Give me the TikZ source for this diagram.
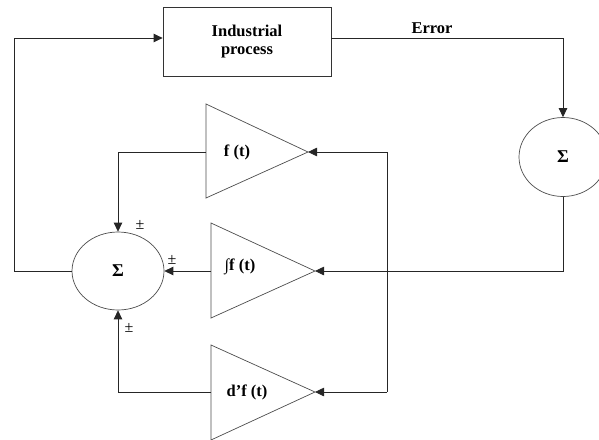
\documentclass[tikz,border=0pt]{standalone}
\usepackage{fontspec}
\setmainfont{Liberation Serif}
\usetikzlibrary{arrows.meta,shapes.geometric}
\begin{document}
\begin{tikzpicture}[x=1pt,y=-1pt,
  wire/.style={draw=black!85, line width=0.8pt},
  arr/.style={wire, -{Triangle[length=9pt,width=8.5pt]}},
  lbl/.style={font=\fontsize{16.5}{18}\selectfont\bfseries, text=black, inner sep=0pt},
  pm/.style={font=\fontsize{16}{18}\selectfont, inner sep=0pt},
  box/.style={draw=black!80, line width=0.8pt, minimum width=168pt, minimum height=69pt, align=center, inner sep=0pt, font=\fontsize{16.5}{18}\selectfont\bfseries},
  sumnode/.style={ellipse, draw=black!70, line width=0.7pt, inner sep=0pt, font=\fontsize{18}{18}\selectfont\bfseries},
  amp/.style={draw=black!70, line width=0.7pt}]
\useasboundingbox (0,0) rectangle (599,439);

% blocks
\node[box] (proc) at (247,41.5) {Industrial\\process};
\node[sumnode, minimum width=88pt, minimum height=79pt] (rsum) at (563,157) {Σ};
\node[sumnode, minimum width=92pt, minimum height=78pt] (lsum) at (118,271) {Σ};

% amplifiers
\draw[amp] (206,104) -- (308,152) -- (206,198) -- cycle;
\coordinate (fin) at (206,152); \coordinate (ftip) at (308,152);
\node[lbl] (flab) at (237,152) {f (t)};

\draw[amp] (211,223) -- (315,271) -- (211,318) -- cycle;
\coordinate (iin) at (211,271); \coordinate (itip) at (315,271);
\node[lbl] (ilab) at (240,267) {∫f (t)};

\draw[amp] (211,345) -- (315,392) -- (211,440) -- cycle;
\coordinate (din) at (211,392); \coordinate (dtip) at (315,392);
\node[lbl] (dlab) at (247,392) {d’f (t)};

% junction line
\coordinate (jt) at (387,152);
\coordinate (jb) at (387,392);
\coordinate (lcorner) at (14,271);

% connectors
\draw[arr] (lsum.west) -- (lcorner) |- ([yshift=3.5pt]proc.west);
\draw[arr] ([yshift=3.5pt]proc.east) -| (rsum.north);
\node[lbl] (err) at (432,28) {Error};
\draw[arr] (rsum.south) |- (itip);
\draw[wire] (jt) -- (jb);
\draw[arr] (jt) -- (ftip);
\draw[arr] (jb) -- (dtip);
\draw[arr] (fin) -| (lsum.north);
\draw[arr] (iin) -- (lsum.east);
\draw[arr] (din) -| (lsum.south);

% signs
\node[pm] (pm1) at (140,225) {±};
\node[pm] (pm2) at (172,260) {±};
\node[pm] (pm3) at (129,328) {±};
\end{tikzpicture}
\end{document}
